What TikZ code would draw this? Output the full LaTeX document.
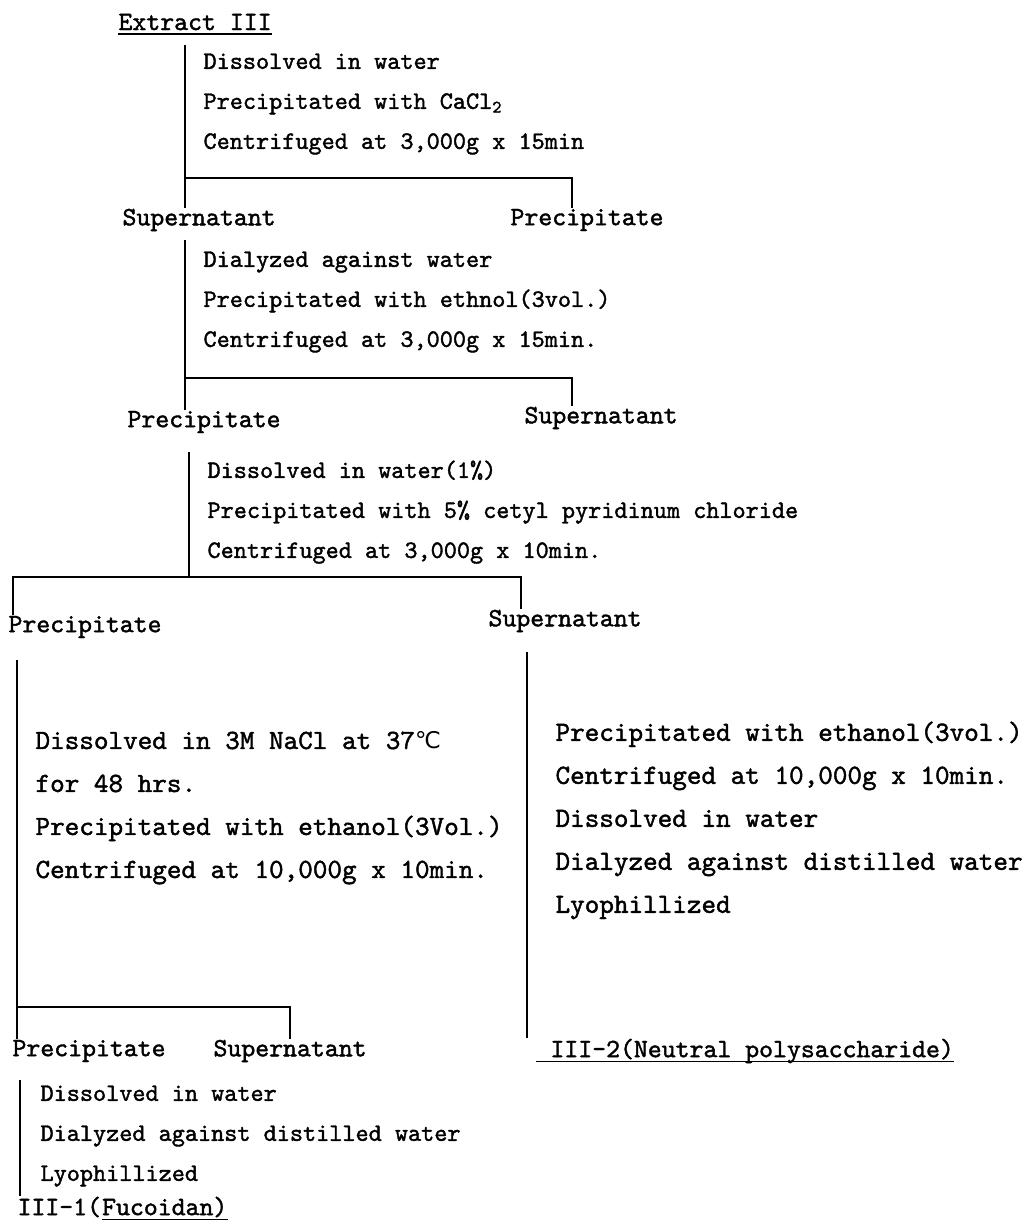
\documentclass[tikz,border=0pt]{standalone}
\usepackage{fontspec}
\usetikzlibrary{positioning}
\newfontfamily\flowfont{lmmono10-regular.otf}[FakeBold=1.5]
\newfontfamily\degfont{DejaVu Sans}
\tikzset{
  fraction/.style={font=\flowfont\fontsize{26.5}{30}\selectfont, anchor=west, inner sep=0pt},
  proc/.style={font=\flowfont\fontsize{25}{40}\selectfont, anchor=north west, align=left, inner sep=0pt},
  bigproc/.style={font=\flowfont\fontsize{27.8}{43}\selectfont, anchor=north west, align=left, inner sep=0pt},
}

\begin{document}
\begin{tikzpicture}[x=1pt, y=-1pt, line width=1.1pt]
	\useasboundingbox (0,0) rectangle (1030,1229);
	% starting material
	\node[fraction] (ext) at (118,22) {Extract III};
	\draw ([yshift=-4pt]ext.base west) -- ([yshift=-4pt]ext.base east);
	% first separation
	\node[proc] (s1) at (203,53) {Dissolved in water\\Precipitated with CaCl\textsubscript{2}\\Centrifuged at 3,000g x 15min};
	\node[fraction] (sup1) at (122,220) {Supernatant};
	\node[fraction] (pre1) at (510,220) {Precipitate};
	\coordinate (a1) at (185,45);
	\coordinate (b1) at (185,178);
	\coordinate (c1) at (572,178);
	\draw (a1) -- (sup1.north -| a1);
	\draw (b1) -- (c1) -- (pre1.north -| c1);
	% second separation
	\node[proc] (s2) at (203,251) {Dialyzed against water\\Precipitated with ethnol(3vol.)\\Centrifuged at 3,000g x 15min.};
	\node[fraction] (pre2) at (127,422) {Precipitate};
	\node[fraction] (sup2) at (524,418) {Supernatant};
	\coordinate (a2) at (185,240);
	\coordinate (b2) at (185,378);
	\coordinate (c2) at (572,378);
	\draw (a2) -- (pre2.north -| a2);
	\draw (b2) -- (c2) -- (sup2.north -| c2);
	% third separation
	\node[proc] (s3) at (207,460) {Dissolved in water(1\%)\\Precipitated with 5\% cetyl pyridinum chloride\\Centrifuged at 3,000g x 10min.};
	\node[fraction] (pre3) at (8,627) {Precipitate};
	\node[fraction] (sup3) at (488,621) {Supernatant};
	\coordinate (a3) at (189,452);
	\coordinate (b3) at (189,577);
	\coordinate (l3) at (13,577);
	\coordinate (r3) at (521,577);
	\draw (a3) -- (b3);
	\draw (pre3.north -| l3) -- (l3) -- (r3) -- (sup3.north -| r3);
	% precipitate branch
	\node[bigproc] (s4) at (35,731) {Dissolved in 3M NaCl at 37{\degfont\fontsize{23}{23}\selectfont ℃}\\for 48 hrs.\\Precipitated with ethanol(3Vol.)\\Centrifuged at 10,000g x 10min.};
	\node[fraction] (pre4) at (12,1051) {Precipitate};
	\node[fraction] (sup4) at (213,1051) {Supernatant};
	\coordinate (a4) at (17,660);
	\coordinate (b4) at (17,1007);
	\coordinate (c4) at (290,1007);
	\draw (a4) -- (pre4.north -| a4);
	\draw (b4) -- (c4) -- (sup4.north -| c4);
	% supernatant branch
	\node[bigproc] (s5) at (555,721) {Precipitated with ethanol(3vol.)\\Centrifuged at 10,000g x 10min.\\Dissolved in water\\Dialyzed against distilled water\\Lyophillized};
	\node[fraction] (fr2) at (536,1051) {\ III-2(Neutral polysaccharide)};
	\coordinate (a5) at (527,652);
	\draw (a5) -- (fr2.north -| a5);
	\draw ([yshift=-4pt]fr2.base west) -- ([yshift=-4pt]fr2.base east);
	% fucoidan
	\node[proc] (s6) at (40,1085) {Dissolved in water\\Dialyzed against distilled water\\Lyophillized};
	\node[fraction] (fr1a) at (17,1207) {III-1(};
	\node[fraction, anchor=base west] (fr1) at (fr1a.base east) {Fucoidan)};
	\coordinate (a6) at (20,1080);
	\draw (a6) -- (fr1a.north -| a6);
	\draw ([yshift=-4pt]fr1.base west) -- ([yshift=-4pt]fr1.base east);
\end{tikzpicture}
\end{document}
